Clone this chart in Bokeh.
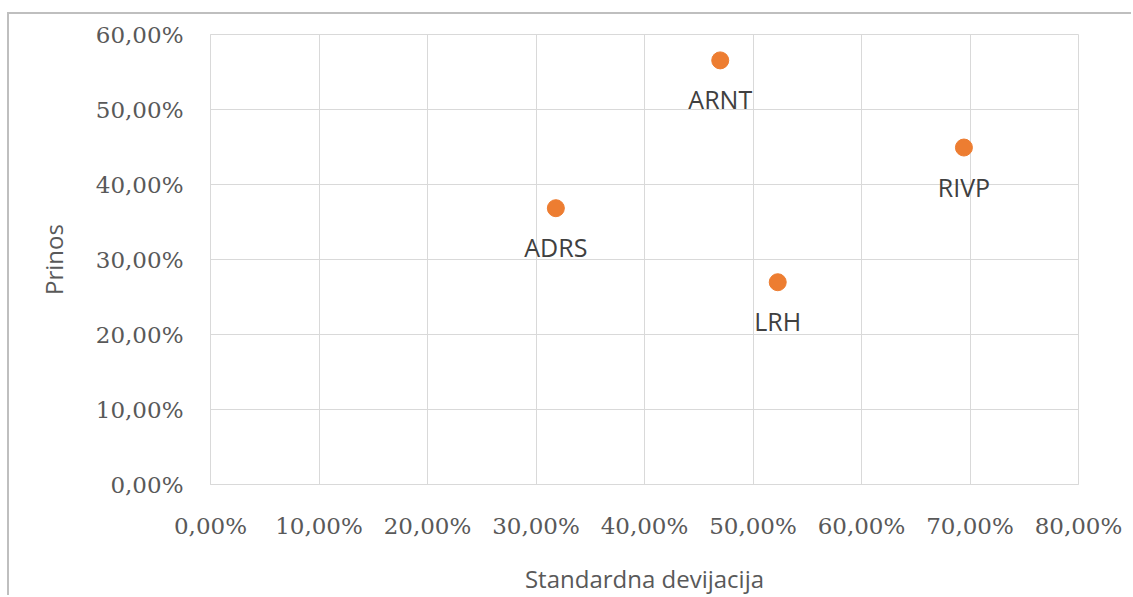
from bokeh.plotting import figure
from bokeh.models import ColumnDataSource, CustomJSTickFormatter, FixedTicker, Range1d
from bokeh.core.properties import value
from bokeh.embed import file_html
from bokeh.resources import INLINE

names = ["ADRS", "ARNT", "RIVP", "LRH"]
std_dev = [31.83, 46.98, 69.44, 52.28]
returns = [36.84, 56.55, 44.93, 26.97]
x_ticks = [0, 10, 20, 30, 40, 50, 60, 70, 80]
y_ticks = [0, 10, 20, 30, 40, 50, 60]

src = ColumnDataSource(dict(x=std_dev, y=returns, name=names))

p = figure(width=1124, height=583, output_backend="svg", toolbar_location=None,
           x_range=Range1d(0, 80), y_range=Range1d(0, 60),
           min_border_left=201, min_border_top=20, min_border_right=55,
           min_border_bottom=113, margin=(12, 0, 0, 7))
p.styles = {"border-top": "2px solid #BFBFBF", "border-left": "2px solid #BFBFBF"}

fmt = CustomJSTickFormatter(code="return tick.toFixed(2).replace('.', ',') + '%';")
for ax, ticks in ((p.xaxis[0], x_ticks), (p.yaxis[0], y_ticks)):
    ax.ticker = FixedTicker(ticks=ticks)
    ax.formatter = fmt
    ax.major_tick_line_color = None
    ax.minor_tick_line_color = None
    ax.axis_line_color = "#D9D9D9"
    ax.major_label_text_font = "DejaVu Serif"
    ax.major_label_text_font_size = "23px"
    ax.major_label_text_color = "#595959"
    ax.axis_label_text_font = "Open Sans"
    ax.axis_label_text_font_size = "24px"
    ax.axis_label_text_font_style = "normal"
    ax.axis_label_text_color = "#595959"

p.xaxis.axis_label = "Standardna devijacija"
p.yaxis.axis_label = "Prinos"
p.xaxis.major_label_standoff = 22
p.yaxis.major_label_standoff = 21
p.xaxis.axis_label_standoff = 20
p.yaxis.axis_label_standoff = 23

p.xgrid.ticker = FixedTicker(ticks=x_ticks)
p.ygrid.ticker = FixedTicker(ticks=y_ticks)
p.grid.grid_line_color = "#D9D9D9"
p.grid.grid_line_width = 1
p.outline_line_color = "#D9D9D9"

p.scatter("x", "y", source=src, size=17, fill_color="#ED7D31", line_color="#ED7D31")
p.text("x", "y", text="name", source=src, text_align="center", text_baseline="alphabetic",
       y_offset=39, text_font=value("Open Sans"), text_font_size="25px", text_color="#404040")

open("out.html", "w").write(file_html(p, INLINE))
